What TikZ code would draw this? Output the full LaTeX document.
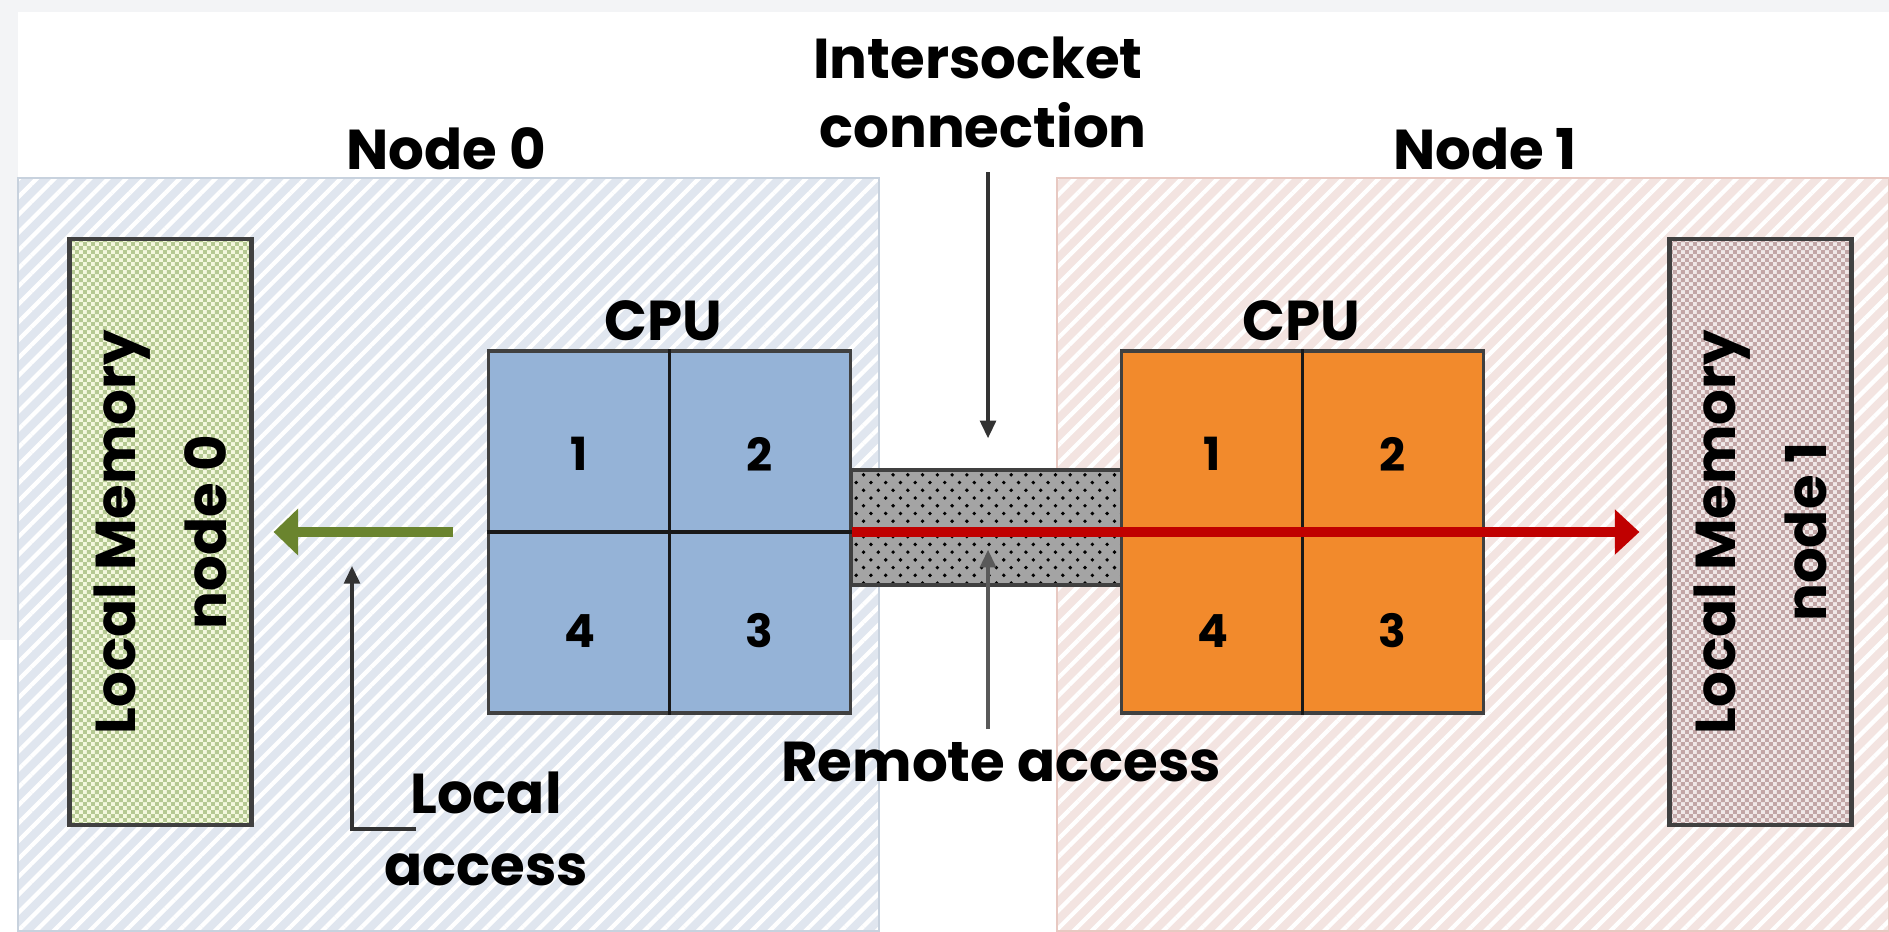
\documentclass[tikz,border=0pt]{standalone}
\usepackage{fontspec}
\setmainfont{Poppins}
\usetikzlibrary{arrows.meta,patterns,patterns.meta}

\definecolor{screengray}{HTML}{F3F4F6}
\definecolor{nodeblue}{HTML}{E0E6EF}
\definecolor{nodeblueborder}{HTML}{C8D2DE}
\definecolor{nodepink}{HTML}{F3E4E1}
\definecolor{nodepinkborder}{HTML}{E8C9C2}
\definecolor{memgreenlight}{HTML}{F4F8DE}
\definecolor{memgreendark}{HTML}{B5C992}
\definecolor{mempinklight}{HTML}{F0E8E8}
\definecolor{mempinkdark}{HTML}{C2A6A6}
\definecolor{cpublue}{HTML}{95B3D7}
\definecolor{cpuorange}{HTML}{F28A2C}
\definecolor{busgray}{HTML}{A4A4A4}
\definecolor{remotered}{HTML}{C00000}
\definecolor{localgreen}{HTML}{6A842E}

% small checks for the memory banks
\pgfdeclarepatternformonly{finechecks}{\pgfqpoint{0pt}{0pt}}{\pgfqpoint{2.4pt}{2.4pt}}{\pgfqpoint{2.4pt}{2.4pt}}{%
    \pgfpathrectangle{\pgfqpoint{0pt}{0pt}}{\pgfqpoint{1.2pt}{1.2pt}}%
    \pgfpathrectangle{\pgfqpoint{1.2pt}{1.2pt}}{\pgfqpoint{1.2pt}{1.2pt}}%
    \pgfusepath{fill}}
% staggered dots for the link
\pgfdeclarepatternformonly{busdots}{\pgfqpoint{-1pt}{-1pt}}{\pgfqpoint{5pt}{5pt}}{\pgfqpoint{4.2pt}{4.4pt}}{%
    \pgfpathcircle{\pgfqpoint{0pt}{0pt}}{0.55pt}%
    \pgfpathcircle{\pgfqpoint{2.1pt}{2.2pt}}{0.55pt}%
    \pgfusepath{fill}}

\begin{document}
\begin{tikzpicture}[
        lbl/.style={font=\fontsize{16}{20}\selectfont\bfseries, inner sep=0pt, anchor=base},
        num/.style={font=\fontsize{13}{16}\selectfont\bfseries, inner sep=0pt},
        panel/.style={draw=#1border, preaction={fill=#1}, pattern={Lines[angle=45,distance=3.6pt,line width=1.2pt]}, pattern color=white},
        membox/.style={draw=black!75, line width=1.2pt, preaction={fill=#1light}, pattern=finechecks, pattern color=#1dark,
            minimum width=5.86cm, minimum height=1.82cm, inner sep=0pt, rotate=90, align=center,
            font=\fontsize{16}{26}\selectfont\bfseries},
        cpu/.style={draw=black!75, line width=1pt, fill=#1, minimum size=3.62cm, inner sep=0pt},
        bus/.style={draw=black!75, line width=1pt, preaction={fill=busgray}, pattern=busdots, pattern color=black,
            minimum width=2.72cm, minimum height=1.15cm, inner sep=0pt},
        divider/.style={draw=black!90, line width=0.9pt},
        remotearrow/.style={draw=remotered, line width=2.8pt, -{Triangle[length=7pt,width=12.5pt]}},
        localarrow/.style={draw=localgreen, line width=3pt, -{Triangle[length=7pt,width=13pt]}},
        pointer/.style={draw=black!80, line width=0.9pt, -{Triangle[length=5pt,width=4.5pt]}}
    ]
        \useasboundingbox (0,0) rectangle (18.89,9.31);

        % Screen border
        \fill[screengray] (0,9.19) rectangle (18.89,9.31);
        \fill[screengray] (0,2.91) rectangle (0.18,9.31);

        % Draw the two nodes
        \path[panel=nodeblue] (0.18,0) rectangle (8.79,7.53);
        \path[panel=nodepink] (10.57,0) rectangle (18.89,7.53);

        % Intersocket link
        \node[bus] (bus) at (9.87,4.035) {};

        % CPUs with their cores
        \node[cpu=cpublue] (cpu0) at (6.695,3.99) {};
        \node[cpu=cpuorange] (cpu1) at (13.025,3.99) {};
        \foreach \c in {cpu0,cpu1} {
            \draw[divider] (\c.north) -- (\c.south) (\c.west) -- (\c.east);
            \node[num] (\c-1) at ([shift={(-0.9,0.78)}]\c.center) {1};
            \node[num] (\c-2) at ([shift={(0.9,0.78)}]\c.center) {2};
            \node[num] (\c-3) at ([shift={(0.9,-0.99)}]\c.center) {3};
            \node[num] (\c-4) at ([shift={(-0.9,-0.99)}]\c.center) {4};
        }

        % Local memories
        \node[membox=memgreen] (mem0) at (1.605,3.99) {Local Memory\\node 0};
        \node[membox=mempink] (mem1) at (17.605,3.99) {Local Memory\\node 1};

        % Accesses
        \draw[localarrow] ([xshift=-0.34cm]cpu0.west) -- ([xshift=0.2cm]mem0.south);
        \draw[remotearrow] (cpu0.east) -- ([xshift=-0.28cm]mem1.north);

        % Labels
        \node[lbl] (n0lbl) at (4.46,7.62) {Node 0};
        \node[lbl] (n1lbl) at (14.85,7.62) {Node 1};
        \node[lbl] (isc1) at (9.78,8.53) {Intersocket};
        \node[lbl] (isc2) at (9.83,7.84) {connection};
        \node[lbl] (cpu0lbl) at (6.63,5.91) {CPU};
        \node[lbl] (cpu1lbl) at (13.01,5.91) {CPU};
        \node[lbl] (remlbl) at (10.01,1.50) {Remote access};
        \node[lbl] (loclbl1) at (4.86,1.18) {Local};
        \node[lbl] (loclbl2) at (4.86,0.46) {access};

        % Pointers
        \coordinate (iscstart) at (9.88,7.59);
        \coordinate (remstart) at (9.88,2.02);
        \coordinate (lastart) at (4.16,1.02);
        \coordinate (laend) at (3.52,3.65);
        \draw[pointer] (iscstart) -- ([yshift=0.3cm]iscstart |- bus.north);
        \draw[pointer, draw=black!65] (remstart) -- ([yshift=0.37cm]remstart |- bus.south);
        \draw[pointer] (lastart) -| (laend);
    \end{tikzpicture}
\end{document}
